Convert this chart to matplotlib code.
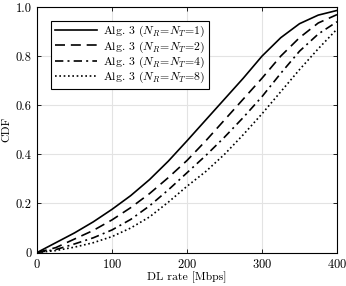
import matplotlib
matplotlib.use("Agg")
import matplotlib.pyplot as plt

plt.rcParams['font.family'] = 'serif'
plt.rcParams['font.serif'] = ['cmr10', 'DejaVu Serif']
plt.rcParams['mathtext.fontset'] = 'cm'
plt.rcParams['axes.formatter.use_mathtext'] = True

rate = [0, 25, 50, 75, 100, 125, 150, 175, 200, 225, 250, 275, 300, 325, 350, 375, 400]
cdf_1 = [0.0, 0.04, 0.08, 0.125, 0.176, 0.232, 0.297, 0.372, 0.455, 0.54, 0.625, 0.71, 0.80, 0.875, 0.932, 0.967, 0.986]
cdf_2 = [0.0, 0.02, 0.055, 0.09, 0.133, 0.183, 0.24, 0.305, 0.375, 0.455, 0.54, 0.625, 0.71, 0.80, 0.875, 0.935, 0.969]
cdf_4 = [0.0, 0.012, 0.035, 0.06, 0.092, 0.135, 0.19, 0.255, 0.325, 0.395, 0.47, 0.55, 0.635, 0.73, 0.82, 0.89, 0.94]
cdf_8 = [0.0, 0.008, 0.022, 0.04, 0.065, 0.10, 0.145, 0.205, 0.27, 0.33, 0.40, 0.48, 0.565, 0.655, 0.745, 0.83, 0.91]
labels = [r'Alg. 3 ($N_R\!=\!N_T\!=\!1$)', r'Alg. 3 ($N_R\!=\!N_T\!=\!2$)',
          r'Alg. 3 ($N_R\!=\!N_T\!=\!4$)', r'Alg. 3 ($N_R\!=\!N_T\!=\!8$)']
xticks = [0, 100, 200, 300, 400]
yticks = [0, 0.2, 0.4, 0.6, 0.8, 1.0]
yticklabels = ['0', '0.2', '0.4', '0.6', '0.8', '1.0']

fig = plt.figure(figsize=(3.46, 2.86), dpi=100)
ax = fig.add_axes([0.107, 0.117, 0.867, 0.8585])

styles = ['-', (0, (6, 3.5)), (0, (5, 2.5, 1.2, 2.5)), (0, (1, 1.6))]
for y, ls, lab in zip([cdf_1, cdf_2, cdf_4, cdf_8], styles, labels):
    ax.plot(rate, y, color='black', linestyle=ls, linewidth=1.2, label=lab)

ax.set_xlim(0, 400)
ax.set_ylim(0, 1)
ax.set_xticks(xticks)
ax.set_yticks(yticks)
ax.set_yticklabels(yticklabels)
ax.grid(True, color='#e3e3e3', linewidth=0.8)
ax.set_axisbelow(True)
ax.tick_params(direction='in', top=True, right=True, labelsize=9, length=3, width=0.6, pad=4)
for s in ax.spines.values():
    s.set_linewidth(0.8)
ax.set_xlabel('DL rate [Mbps]', fontsize=8.5, labelpad=0)
ax.set_ylabel('CDF', fontsize=8.5, labelpad=3)

leg = ax.legend(loc='upper left', bbox_to_anchor=(0.047, 0.945), borderaxespad=0,
                fontsize=8.5, frameon=True, fancybox=False, edgecolor='black',
                framealpha=1, handlelength=3.6, handletextpad=0.5, labelspacing=0.0,
                borderpad=0.3)
leg.get_frame().set_linewidth(0.8)

fig.savefig('out.png', dpi=100)
